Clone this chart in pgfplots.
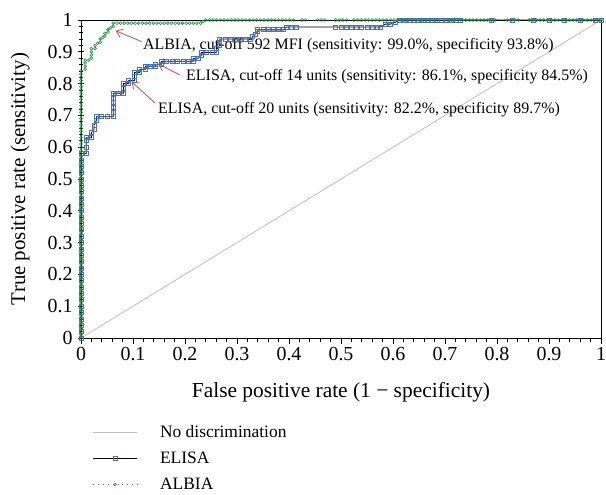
\documentclass[border=0pt]{standalone}
\usepackage{fontspec}
\setmainfont{Liberation Serif}
\usepackage{pgfplots}
\pgfplotsset{compat=1.18}
\usetikzlibrary{arrows.meta}

\definecolor{elisablue}{RGB}{72,112,196}
\definecolor{albiagreen}{RGB}{30,135,60}
\definecolor{arrowred}{RGB}{192,80,77}
\definecolor{diaggray}{RGB}{190,190,190}

\begin{document}
\begin{tikzpicture}
\begin{axis}[
    scale only axis, width=520bp, height=318bp,
    xmin=0, xmax=1, ymin=0, ymax=1,
    xtick={0,0.1,0.2,0.3,0.4,0.5,0.6,0.7,0.8,0.9,1},
    ytick={0,0.1,0.2,0.3,0.4,0.5,0.6,0.7,0.8,0.9,1},
    xticklabels={0,0.1,0.2,0.3,0.4,0.5,0.6,0.7,0.8,0.9,1},
    yticklabels={0,0.1,0.2,0.3,0.4,0.5,0.6,0.7,0.8,0.9,1},
    minor x tick num=4, minor y tick num=4,
    xtick pos=bottom, ytick pos=left,
    xtick align=outside, ytick align=center,
    major tick length=6bp, minor tick length=3.5bp,
    every tick/.style={black, line width=0.7bp},
    axis line style={line width=0.9bp},
    tick label style={font=\fontsize{20}{22}\selectfont},
    yticklabel style={xshift=-2bp},
    xlabel={False positive rate (1 − specificity)},
    ylabel={True positive rate (sensitivity)},
    every axis x label/.style={at={(rel axis cs:0.5,-0.172)}, anchor=center,
        font=\fontsize{21.5}{23}\selectfont},
    every axis y label/.style={at={(rel axis cs:-0.117,0.5)}, anchor=center, rotate=90,
        font=\fontsize{21}{23}\selectfont},
    legend style={draw=none, fill=none, at={(rel axis cs:0.022,-0.268)}, anchor=north west,
        font=\fontsize{17.5}{19}\selectfont, row sep=9bp, inner sep=0pt},
    legend cell align=left,
    legend image code/.code={\draw[mark repeat=2, mark phase=2, #1]
        plot coordinates {(0bp,0bp) (22bp,0bp) (44bp,0bp)};
        \path[draw=none] (0bp,0bp) -- (65bp,0bp);},
    clip=false,
]
% no discrimination
\addplot[diaggray, line width=0.8bp] coordinates {(0,0) (1,1)};
\addlegendentry{No discrimination}

% ELISA
\addplot[black, line width=0.8bp, mark=square, mark size=2bp,
    mark options={draw=elisablue, fill=white, line width=0.8bp}] coordinates {
(0,0)(0,0.02)(0,0.04)(0,0.06)(0,0.08)(0,0.10)(0,0.12)(0,0.14)(0,0.16)(0,0.18)
(0,0.20)(0,0.22)(0,0.24)(0,0.26)(0,0.28)(0,0.30)(0,0.32)(0,0.34)(0,0.36)(0,0.38)
(0,0.40)(0,0.42)(0,0.44)(0,0.46)(0,0.48)(0,0.50)(0,0.52)(0,0.54)(0,0.56)(0,0.58)
(0.01,0.58)(0.01,0.60)(0.01,0.62)(0.01,0.63)
(0.02,0.63)(0.02,0.645)(0.025,0.655)(0.025,0.67)(0.03,0.685)(0.03,0.696)
(0.04,0.696)(0.05,0.696)(0.062,0.696)
(0.062,0.71)(0.062,0.725)(0.062,0.74)(0.062,0.755)(0.062,0.77)
(0.072,0.77)(0.082,0.77)(0.082,0.785)(0.082,0.80)(0.092,0.80)(0.092,0.81)
(0.103,0.81)(0.103,0.822)(0.103,0.835)(0.113,0.835)(0.113,0.845)(0.124,0.845)
(0.124,0.855)(0.134,0.855)(0.144,0.855)(0.144,0.861)(0.155,0.861)(0.155,0.87)
(0.165,0.87)(0.175,0.87)(0.185,0.87)(0.196,0.87)(0.206,0.87)(0.216,0.87)
(0.216,0.88)(0.226,0.88)(0.232,0.89)(0.232,0.898)(0.242,0.898)(0.252,0.898)
(0.26,0.898)(0.26,0.91)(0.267,0.92)(0.267,0.93)(0.267,0.94)
(0.277,0.94)(0.287,0.94)(0.297,0.94)(0.307,0.94)(0.317,0.94)(0.325,0.94)
(0.33,0.947)(0.335,0.956)(0.34,0.963)(0.34,0.969)
(0.35,0.969)(0.36,0.969)(0.37,0.969)(0.38,0.969)(0.39,0.969)
(0.395,0.978)(0.405,0.978)(0.415,0.978)(0.49,0.978)
(0.50,0.978)(0.51,0.978)(0.52,0.978)(0.53,0.978)(0.54,0.978)(0.55,0.978)
(0.56,0.978)(0.57,0.978)(0.575,0.978)
(0.585,0.987)(0.595,0.987)(0.605,0.993)(0.613,1)
(0.622,1)(0.631,1)(0.640,1)(0.649,1)(0.658,1)(0.667,1)(0.676,1)(0.685,1)
(0.694,1)(0.703,1)(0.712,1)(0.721,1)(0.73,1)
(0.79,1)(0.83,1)(0.87,1)(0.90,1)(0.93,1)(0.96,1)(0.99,1)(1,1)
};
\addlegendentry{ELISA}

% ALBIA
\addplot[black!60, loosely dotted, line width=0.9bp, mark=o, mark size=1.45bp,
    mark options={solid, draw=albiagreen, fill=white, line width=0.55bp}] coordinates {
(0,0)(0,0.01)(0,0.02)(0,0.03)(0,0.04)(0,0.05)(0,0.06)(0,0.07)(0,0.08)(0,0.09)
(0,0.10)(0,0.11)(0,0.12)(0,0.13)(0,0.14)(0,0.15)(0,0.16)(0,0.17)(0,0.18)(0,0.19)
(0,0.20)(0,0.21)(0,0.22)(0,0.23)(0,0.24)(0,0.25)(0,0.26)(0,0.27)(0,0.28)(0,0.29)
(0,0.30)(0,0.31)(0,0.32)(0,0.33)(0,0.34)(0,0.35)(0,0.36)(0,0.37)(0,0.38)(0,0.39)
(0,0.40)(0,0.41)(0,0.42)(0,0.43)(0,0.44)(0,0.45)(0,0.46)(0,0.47)(0,0.48)(0,0.49)
(0,0.50)(0,0.51)(0,0.52)(0,0.53)(0,0.54)(0,0.55)(0,0.56)(0,0.57)(0,0.58)(0,0.59)
(0,0.60)(0,0.61)(0,0.62)(0,0.63)(0,0.64)(0,0.65)(0,0.66)(0,0.67)(0,0.68)(0,0.69)
(0,0.70)(0,0.71)(0,0.72)(0,0.73)(0,0.74)(0,0.75)(0,0.76)(0,0.77)(0,0.78)(0,0.79)
(0,0.80)(0,0.81)(0,0.82)(0,0.83)(0,0.84)
(0.008,0.845)(0.008,0.855)(0.008,0.865)(0.008,0.874)
(0.015,0.874)(0.02,0.88)(0.02,0.89)(0.02,0.90)(0.02,0.91)
(0.027,0.91)(0.027,0.92)(0.032,0.927)(0.037,0.93)(0.037,0.94)
(0.042,0.945)(0.046,0.95)(0.046,0.958)(0.052,0.962)(0.052,0.97)
(0.057,0.975)(0.062,0.98)(0.062,0.99)
(0.069,0.99)(0.076,0.99)(0.083,0.99)(0.09,0.99)(0.097,0.99)(0.104,0.99)
(0.111,0.99)(0.118,0.99)(0.125,0.99)(0.132,0.99)(0.139,0.99)(0.146,0.99)
(0.153,0.99)(0.16,0.99)(0.167,0.99)(0.174,0.99)(0.181,0.99)(0.188,0.99)
(0.195,0.99)(0.202,0.99)(0.209,0.99)(0.216,0.99)(0.223,0.99)(0.23,0.99)
(0.235,0.995)(0.24,1)(0.247,1)(0.254,1)(0.261,1)(0.268,1)(0.275,1)(0.282,1)
(0.289,1)(0.296,1)(0.303,1)(0.31,1)(0.317,1)(0.324,1)(0.331,1)(0.338,1)
(0.345,1)(0.352,1)(0.359,1)(0.366,1)(0.373,1)(0.38,1)(0.387,1)(0.394,1)
(0.401,1)(0.408,1)(0.425,1)(0.432,1)(0.455,1)(0.462,1)(0.469,1)
(0.49,1)(0.497,1)(0.504,1)(0.511,1)(0.525,1)(0.532,1)(0.539,1)(0.546,1)
(0.553,1)(0.56,1)(0.567,1)(0.574,1)(0.581,1)(0.588,1)(0.595,1)(0.602,1)
(0.609,1)(0.616,1)(0.623,1)(0.63,1)(0.637,1)(0.644,1)(0.651,1)(0.658,1)
(0.665,1)(0.672,1)(0.679,1)(0.686,1)(0.705,1)(0.712,1)(0.719,1)(0.726,1)
(0.733,1)(0.74,1)(0.747,1)(0.754,1)(0.761,1)(0.768,1)(0.775,1)(0.782,1)
(0.789,1)(0.796,1)(0.82,1)(0.827,1)(0.834,1)(0.841,1)(0.862,1)(0.869,1)
(0.876,1)(0.883,1)(0.89,1)(0.897,1)(0.904,1)(0.911,1)(0.918,1)(0.925,1)
(0.932,1)(0.939,1)(0.946,1)(0.953,1)(0.96,1)(0.967,1)(0.974,1)(0.981,1)
(0.988,1)(0.995,1)(1,1)
};
\addlegendentry{ALBIA}

% annotations
\begin{scope}[arrowred, line width=0.8bp, -{Straight Barb[length=6bp,width=9bp]}]
\draw (axis cs:0.1167,0.932) -- (axis cs:0.0667,0.966);
\draw (axis cs:0.19,0.827) -- (axis cs:0.149,0.862);
\draw (axis cs:0.142,0.739) -- (axis cs:0.0975,0.806);
\end{scope}
\begin{scope}[font=\fontsize{16}{18}\selectfont, inner sep=0pt]
\node[anchor=west] at (axis cs:0.119,0.921) {ALBIA, cut-off 592 MFI (sensitivity: 99.0\%, specificity 93.8\%)};
\node[anchor=west] at (axis cs:0.202,0.821) {ELISA, cut-off 14 units (sensitivity: 86.1\%, specificity 84.5\%)};
\node[anchor=west] at (axis cs:0.148,0.717) {ELISA, cut-off 20 units (sensitivity: 82.2\%, specificity 89.7\%)};
\end{scope}
\end{axis}
\pgfresetboundingbox
\path[use as bounding box] ([xshift=-81bp,yshift=-157bp]current axis.south west)
    rectangle ([xshift=5bp,yshift=20bp]current axis.north east);
\end{tikzpicture}
\end{document}
